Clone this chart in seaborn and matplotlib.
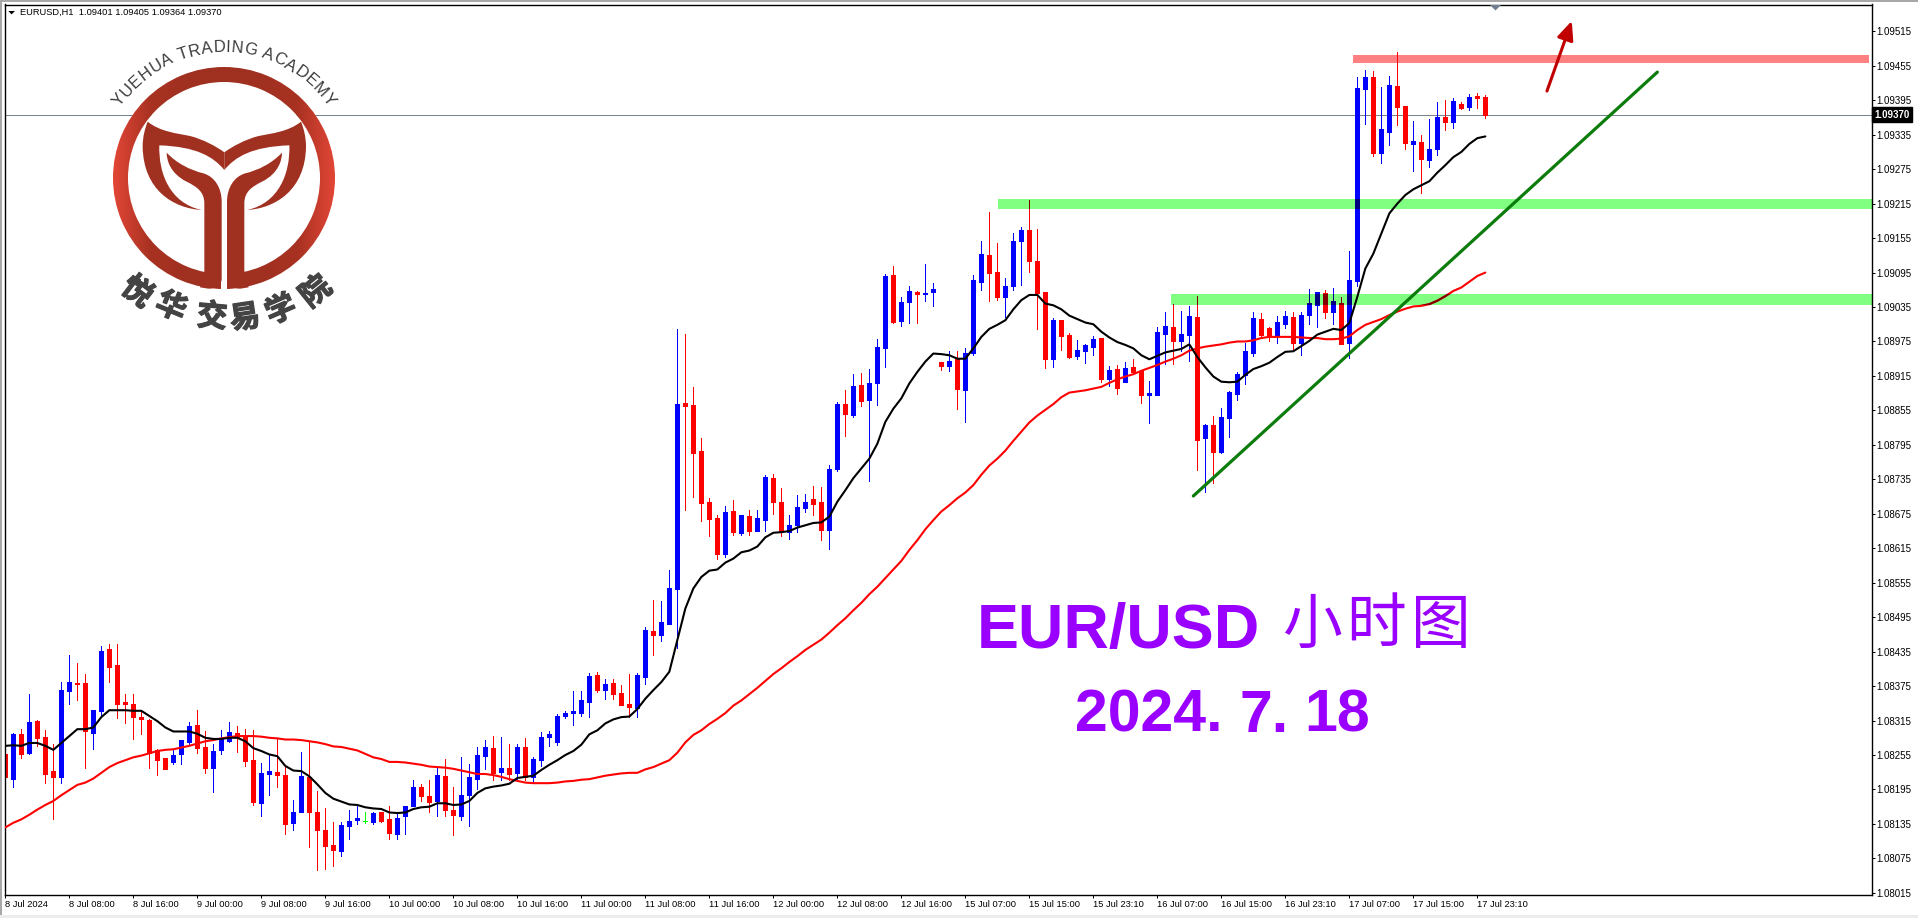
import numpy as np
import pandas as pd
import seaborn as sns
import matplotlib
matplotlib.use('Agg')
import matplotlib.pyplot as plt
import matplotlib.patheffects as pe
from matplotlib.colors import LinearSegmentedColormap
from matplotlib.patches import Rectangle, Wedge, Circle, PathPatch, Polygon
from matplotlib.path import Path
from matplotlib.font_manager import FontProperties
from matplotlib.textpath import text_to_path

# prices are stored as points above 1.08000
opens = [257,214,291,258,314,286,227,216,367,381, 380,294,332,440,412,347,343,321,316,263,
         250,242,256,278,307,269,233,263,280,293, 287,246,172,222,225,220,137,156,217,156,
         124,99,88,132,142,141,139,155,143,118, 148,167,199,184,175,218,159,149,186,214,
         253,267,225,232,224,269,217,246,286,277, 323,328,328,348,394,368,380,363,344,337,
         391,471,464,483,544,868,864,784,695,667, 605,680,641,671,645,664,737,695,643,655,
         685,700,695,647,753,866,847,899,873,902, 964,1091,1011,1044,1061,1058,1061,939,932,944,
         890,955,1079,1126,1096,1052,1072,1150,1169,1115, 1061,944,1012,986,950,958,965,981,910,927,
         904,930,923,882,882,988,1000,976,986,1018, 807,829,782,842,883,917,955,1014,998,985,
         1005,1018,972,1021,1038,1059,1026,1042,972,1080, 1415,1435,1303,1340,1420,1385,1319,1322,1291,1310,
         1366,1357,1388,1383,1402,1401]
closes = [216,291,257,312,285,222,216,368,383,379, 296,333,436,409,344,344,322,318,258,247,
          231,255,281,305,268,233,262,283,295,286, 245,174,223,227,221,135,155,218,155,125,
          97,90,133,141,146,141,154,141,120,145, 166,199,184,174,220,160,151,185,217,255,
          269,224,232,222,269,217,248,286,291,323, 328,331,350,392,368,378,361,342,338,394,
          472,464,486,546,866,862,781,694,666,605, 678,643,673,645,667,739,695,643,655,687,
          695,692,647,753,866,849,897,871,902,965, 1089,1009,1044,1063,1058,1059,1066,932,941,892,
          955,1082,1127,1094,1052,1072,1150,1169,1115,1059, 944,1012,984,948,960,969,979,910,925,894,
          929,922,882,885,991,1002,976,988,1019,803, 829,782,843,887,918,958,1016,986,985,1009,
          1019,972,1021,1042,1061,1026,1045,971,1082,1416, 1435,1303,1345,1422,1383,1320,1324,1293,1310,1366,
          1357,1394,1381,1401,1399,1370]
highs = [293,294,300,361,316,298,275,382,429,416, 396,333,445,449,448,361,361,333,317,265,
         250,263,282,312,333,297,274,298,312,305, 301,298,241,255,283,235,177,261,278,192,
         163,138,139,159,166,156,155,156,166,152, 167,211,204,211,233,248,199,252,239,269,
         281,288,286,274,275,284,251,295,297,327, 331,366,366,398,399,387,387,377,396,398,
         478,525,523,577,996,988,895,807,702,673, 688,699,673,681,681,742,744,720,673,707,
         709,723,721,760,869,890,918,920,927,979, 1092,1106,1052,1071,1063,1110,1077,939,958,958,
         964,1091,1150,1200,1146,1085,1164,1174,1221,1171, 1061,1016,1012,990,977,970,984,981,932,934,
         939,944,925,906,1000,1026,1040,1028,1037,1054, 831,845,859,889,922,972,1026,1024,1000,1019,
         1028,1026,1026,1066,1061,1065,1068,1052,1132,1435, 1448,1446,1418,1437,1479,1385,1359,1334,1362,1392,
         1395,1399,1392,1406,1408,1405]
lows = [189,200,249,257,271,207,144,207,344,351, 233,266,322,383,319,310,283,292,233,221,
        231,240,240,275,259,224,191,257,277,261, 236,168,149,186,200,118,125,156,94,54,
        57,62,80,108,135,137,135,139,109,108, 118,166,175,156,148,149,116,142,132,196,
        231,212,211,211,214,211,208,236,271,273, 320,307,323,322,365,352,352,342,322,322,
        378,429,453,483,442,681,704,662,636,596, 600,638,638,638,645,645,674,636,631,643,
        678,673,629,613,749,810,843,862,732,864, 931,1007,1002,1007,1007,1045,1037,925,924,857,
        835,951,1065,1045,1047,1018,1065,1073,1096,997, 929,931,960,946,944,937,951,904,897,883,
        904,918,868,833,882,936,936,958,941,752, 713,728,781,809,873,901,950,985,976,972,
        998,958,951,1005,1000,1016,1005,971,946,1072, 1354,1298,1286,1317,1352,1310,1272,1233,1279,1300,
        1343,1347,1380,1378,1381,1364]
ma_fast = [271,272,271,276,276,271,264,276,288,300, 300,303,321,333,333,333,332,332,323,314,
           303,296,296,296,292,285,283,283,285,285, 279,267,262,256,253,236,228,227,218,204,
           189,179,174,169,168,164,162,161,155,154, 155,161,164,165,171,171,168,169,175,189,
           197,200,202,205,215,217,219,229,238,246, 255,262,273,291,298,310,317,321,322,335,
           353,368,382,400,455,510,545,565,576,578, 590,597,608,611,618,634,642,643,645,651,
           655,659,660,670,696,716,737,754,771,797, 835,858,876,902,922,940,954,953,951,945,
           945,963,983,997,1004,1012,1031,1047,1056,1056, 1041,1038,1031,1020,1014,1008,1005,992,982,974,
           969,963,951,944,950,956,959,962,970,948, 930,914,905,904,905,917,927,932,938,948,
           957,958,967,976,987,992,997,995,1007,1053, 1102,1128,1163,1198,1215,1230,1240,1247,1254,1269,
           1282,1296,1305,1319,1329,1332]
ma_slow = [129,137,143,151,160,168,175,185,194,203, 207,214,224,234,241,246,251,254,258,262,
           264,265,268,271,275,279,281,284,286,288, 288,288,287,285,284,282,282,281,279,277,
           274,270,269,266,263,257,251,248,243,243, 242,240,238,235,234,233,231,228,225,222,
           222,220,217,213,210,207,206,206,206,207, 209,210,212,213,216,219,221,223,224,224,
           230,234,240,246,259,277,290,298,309,318, 328,341,350,361,372,384,396,406,417,427,
           438,447,456,468,481,493,507,520,535,548, 563,578,593,612,629,648,664,679,690,702,
           712,725,743,759,771,785,802,818,834,846, 856,866,878,886,888,890,893,896,903,909,
           914,918,924,929,934,940,945,951,959,963, 966,968,970,973,975,975,977,981,983,983,
           983,983,982,981,981,979,979,980,984,995, 1004,1009,1014,1021,1027,1032,1036,1037,1040,1046,
           1054,1063,1069,1079,1089,1095]

y_ticks = [1.08015 + 0.0006 * n for n in range(26)]
x_labels = ['8 Jul 2024', '8 Jul 08:00', '8 Jul 16:00', '9 Jul 00:00', '9 Jul 08:00', '9 Jul 16:00',
            '10 Jul 00:00', '10 Jul 08:00', '10 Jul 16:00', '11 Jul 00:00', '11 Jul 08:00', '11 Jul 16:00',
            '12 Jul 00:00', '12 Jul 08:00', '12 Jul 16:00', '15 Jul 07:00', '15 Jul 15:00', '15 Jul 23:10',
            '16 Jul 07:00', '16 Jul 15:00', '16 Jul 23:10', '17 Jul 07:00', '17 Jul 15:00', '17 Jul 23:10']

# drawn objects on the chart: (first bar, last bar, low, high) in bars and points
zones = [(124.1, 233.4, 1206, 1223, '#80ff80'),
         (145.7, 233.4, 1039, 1058, '#80ff80'),
         (168.4, 233.0, 1460, 1474, '#ff8080')]
trend_bars = [148.5, 206.5]
trend_pts = [706, 1444]
arrow_bars = [192.7, 195.8]
arrow_pts = [1411, 1533]

W, H = 1918, 918
TICK_FONT = 'Liberation Sans'


def price(points):
    return 1.08 + np.asarray(points, dtype=float) / 1e5


df = pd.DataFrame({'bar': np.arange(len(opens)),
                   'open': price(opens), 'close': price(closes),
                   'high': price(highs), 'low': price(lows),
                   'ma_fast': price(ma_fast), 'ma_slow': price(ma_slow)})
df['colour'] = np.where(df['close'] > df['open'], '#0000ff',
                        np.where(df['close'] < df['open'], '#ff0000', '#00ff00'))

sns.set_theme(style='white')
plt.rcParams['font.family'] = [TICK_FONT, 'DejaVu Sans']

fig = plt.figure(figsize=(W / 100, H / 100), dpi=100, facecolor='white')
ax = fig.add_axes([5 / W, 1 - 895 / H, (1872 - 5) / W, (895 - 4.5) / H])


def draw_candles(axis, frame, colours, clip=None, z=2):
    """wicks as 1px lines, bodies as 5px bars"""
    wicks = axis.vlines(frame['bar'], frame['low'], frame['high'], colors=colours,
                        linewidth=0.72, zorder=z, antialiased=False)
    bottoms = frame[['open', 'close']].min(axis=1)
    heights = (frame['open'] - frame['close']).abs()
    bars = axis.bar(frame['bar'], heights, bottom=bottoms, width=0.5, color=colours,
                    edgecolor=colours, linewidth=0.72, zorder=z + 0.1, antialiased=False)
    if clip is not None:
        wicks.set_clip_path(clip)
        for b in bars:
            b.set_clip_path(clip)


zone_patches = []
for x0, x1, low, high, colour in zones:
    patch = Rectangle((x0, price(low)), x1 - x0, price(high) - price(low),
                      facecolor=colour, edgecolor='none', zorder=1)
    ax.add_patch(patch)
    zone_patches.append(patch)

# current price line
ax.axhline(df['close'].iloc[-1], color='#778490', linewidth=0.72, zorder=1.5)

draw_candles(ax, df, df['colour'].tolist())

sns.lineplot(data=df, x='bar', y='ma_slow', ax=ax, color='#ff0000', linewidth=1.5,
             estimator=None, errorbar=None, zorder=3)
sns.lineplot(data=df, x='bar', y='ma_fast', ax=ax, color='#000000', linewidth=1.5,
             estimator=None, errorbar=None, zorder=3.2)

# the zones darken what lies under them
for patch, colour in zip(zone_patches, [z[4] for z in zones]):
    red_under = '#800000' if colour == '#80ff80' else '#ff0000'
    dark = df['colour'].map({'#0000ff': '#000080', '#ff0000': red_under, '#00ff00': '#00ff00'}).tolist()
    draw_candles(ax, df, dark, clip=patch, z=2.5)
    line, = ax.plot(df['bar'], df['ma_slow'], color=red_under, linewidth=1.5, zorder=3.1)
    line.set_clip_path(patch)

ax.plot(trend_bars, price(trend_pts), color='#0c7c0c', linewidth=2.3, zorder=4)
ax.annotate('', xy=(arrow_bars[1], price(arrow_pts[1])), xytext=(arrow_bars[0], price(arrow_pts[0])),
            arrowprops=dict(arrowstyle='-|>,head_length=0.75,head_width=0.33', color='#c00000',
                            linewidth=2.2, mutation_scale=15, shrinkA=0, shrinkB=0), zorder=4)

ax.set_xlim(-0.04, 233.33)
ax.set_ylim(price(11.3), price(1561.7))
ax.set_xlabel('')
ax.set_ylabel('')

ax.yaxis.tick_right()
ax.set_yticks(y_ticks)
ax.set_yticklabels([f'{v:.5f}' for v in y_ticks], fontsize=7.0, color='black')
ax.set_xticks(np.arange(len(x_labels)) * 8)
ax.set_xticklabels(x_labels, fontsize=6.7, color='black', ha='left')
ax.tick_params(axis='y', right=True, length=2.2, width=0.72, pad=1.2, color='black')
ax.tick_params(axis='x', bottom=True, length=2.2, width=0.72, pad=1.5, color='black')
for side in ax.spines.values():
    side.set_color('black')
    side.set_linewidth(1.0)

# last price tag on the scale
ax.text(1.0012, df['close'].iloc[-1], f"{df['close'].iloc[-1]:.5f}", transform=ax.get_yaxis_transform(),
        fontsize=7.0, color='white', va='center', ha='left', fontweight='bold',
        bbox=dict(facecolor='black', edgecolor='black', pad=1.6), zorder=6, clip_on=False)

# overlay in pixel coordinates for the window frame, logo and captions
top = fig.add_axes([0, 0, 1, 1], zorder=5)
top.patch.set_alpha(0)
top.axis('off')

top.add_patch(Rectangle((0, 0), W, 1.6, facecolor='#a8a8a8', edgecolor='none'))
top.add_patch(Rectangle((0, 0), 2, H, facecolor='#a8a8a8', edgecolor='none'))
top.add_patch(Rectangle((0, 915), W, 3, facecolor='#ececec', edgecolor='none'))
top.add_patch(Polygon([(8.3, 11), (15, 11), (11.6, 14.4)], facecolor='black', edgecolor='none'))
top.add_patch(Polygon([(1490, 5), (1501, 5), (1495.5, 10.5)], facecolor='#708090', edgecolor='none'))
top.text(20, 12.5, 'EURUSD,H1  1.09401 1.09405 1.09364 1.09370', fontsize=6.7, color='black',
         va='center', ha='left')

# logo
CX, CY = 224, 178
LOGO_RED = '#a03020'
top.add_patch(Circle((CX, CY), 96, facecolor='white', edgecolor='none', zorder=1))
ring = Wedge((CX, CY), 111, 0, 360, width=15, facecolor='none', edgecolor='none', zorder=2)
top.add_patch(ring)
cmap = LinearSegmentedColormap.from_list('logo', ['#e24636', '#a83222', '#a03020', '#a03020',
                                                  '#a03020', '#a83222', '#e24636'])
grad = top.imshow(np.linspace(0, 1, 256).reshape(1, -1), cmap=cmap, aspect='auto',
                  extent=(CX - 111, CX + 111, CY + 111, CY - 111), zorder=2)
grad.set_clip_path(ring)

M, C, L, Z = Path.MOVETO, Path.CURVE4, Path.LINETO, Path.CLOSEPOLY
leaf_pts = [(443, 365), (480, 395), (530, 400), (570, 408), (610, 418), (650, 440), (673, 457),
            (673, 510), (640, 470), (590, 440), (478, 436), (475, 520), (510, 610), (605, 630),
            (520, 625), (430, 570), (428, 440), (428, 410), (435, 385), (443, 365), (443, 365)]
leaf_codes = [M, C, C, C, C, C, C, L, C, C, C, C, C, C, C, C, C, C, C, C, Z]
stem_pts = [(500, 458), (530, 490), (570, 510), (610, 520), (645, 530), (665, 565), (665, 605),
            (665, 840), (660, 858), (645, 866), (625, 866), (600, 862), (613, 815), (613, 610),
            (613, 575), (590, 560), (560, 545), (510, 520), (500, 480), (500, 458), (500, 458)]
stem_codes = [M, C, C, C, C, C, C, L, C, C, C, L, L, L, C, C, C, C, C, C, Z]
top.add_patch(Rectangle((CX - 2.6, CY + 90), 5.7, 24, facecolor='white', edgecolor='none', zorder=3))
for pts, codes in [(leaf_pts, leaf_codes), (stem_pts, stem_codes)]:
    for flip in [False, True]:
        arr = np.array(pts, dtype=float)
        if flip:
            arr[:, 0] = 2 * 673 - arr[:, 0]
        top.add_patch(PathPatch(Path(arr / 3, codes), facecolor=LOGO_RED, edgecolor='none', zorder=4))

# english name round the top of the ring
name = 'YUEHUA TRADING ACADEMY'
name_font = FontProperties(family='Liberation Sans', size=12)
widths = [text_to_path.get_text_width_height_descent(ch, name_font, False)[0] for ch in name]
span = np.radians(112)
scale = span / sum(widths)
angle = np.radians(146)
for ch, w in zip(name, widths):
    mid = angle - w * scale / 2
    top.text(CX + 126 * np.cos(mid), CY - 126 * np.sin(mid), ch, fontproperties=name_font,
             color='#3c3c3c', rotation=np.degrees(mid) - 90, rotation_mode='anchor',
             ha='center', va='baseline', zorder=5)
    angle -= w * scale

# chinese name under the ring
cn_chars = ['悦', '华', '交', '易', '学', '院']
cn_xy = [(137, 292), (171, 307), (212, 317), (245, 318), (281, 310), (316, 292)]
for ch, (px, py) in zip(cn_chars, cn_xy):
    rot = np.degrees(np.arctan2(px - CX, py - CY))
    top.text(px, py, ch, family=['Noto Sans CJK SC', 'DejaVu Sans'], fontweight='bold', fontsize=22,
             color='#444444', rotation=rot, rotation_mode='anchor', ha='center', va='center', zorder=5,
             path_effects=[pe.withStroke(linewidth=0.9, foreground='#444444')])

# captions
PURPLE = '#9900ff'
top.text(977, 648, 'EUR/USD', fontsize=45.3, fontweight='bold', color=PURPLE, family='Liberation Sans',
         ha='left', va='baseline')
for ch, px in zip(['小', '时', '图'], [1312, 1376, 1441]):
    top.text(px, 626, ch, fontsize=43, color=PURPLE, family=['Noto Sans CJK SC', 'DejaVu Sans'],
             ha='center', va='center')
for part, px in zip(['2024.', '7.', '18'], [1075, 1240, 1304]):
    top.text(px, 732, part, fontsize=42.5, fontweight='bold', color=PURPLE, family='Liberation Sans',
             ha='left', va='baseline')

top.set_xlim(0, W)
top.set_ylim(H, 0)

plt.savefig('out.png', dpi=100, facecolor='white')
plt.close()
